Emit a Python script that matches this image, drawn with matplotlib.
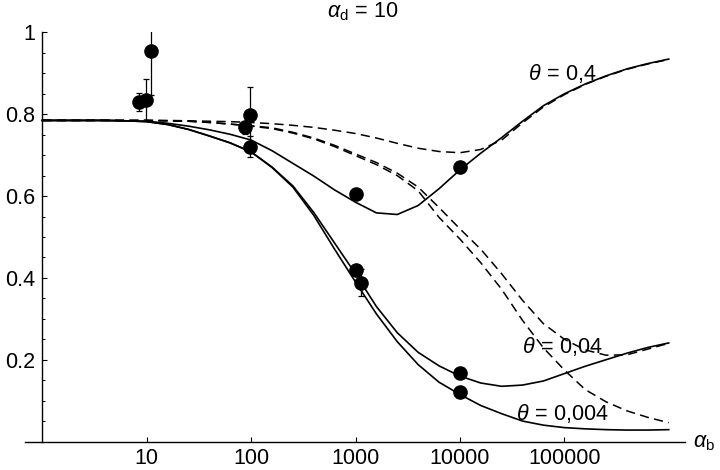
import numpy as np
import matplotlib
matplotlib.use('Agg')
import matplotlib.pyplot as plt
from matplotlib.ticker import FixedLocator, FixedFormatter, NullLocator

plt.rcParams['font.family'] = ['Liberation Sans', 'DejaVu Sans']
plt.rcParams['mathtext.fontset'] = 'custom'
plt.rcParams['mathtext.rm'] = 'Liberation Sans'
plt.rcParams['mathtext.it'] = 'Liberation Sans:italic'
plt.rcParams['mathtext.bf'] = 'Liberation Sans:bold'

alpha_b = 10 ** np.linspace(0, 6, 31)

theta_04 = [0.785, 0.785, 0.785, 0.785, 0.784, 0.783, 0.778, 0.771, 0.762, 0.751,
            0.737, 0.711, 0.680, 0.649, 0.615, 0.585, 0.559, 0.555, 0.577, 0.618,
            0.664, 0.705, 0.743, 0.783, 0.821, 0.850, 0.874, 0.894, 0.911, 0.924,
            0.935]
theta_004 = [0.785, 0.785, 0.785, 0.785, 0.784, 0.782, 0.775, 0.763, 0.747, 0.730,
             0.708, 0.671, 0.625, 0.560, 0.485, 0.410, 0.330, 0.266, 0.218, 0.185,
             0.160, 0.143, 0.135, 0.138, 0.148, 0.166, 0.184, 0.200, 0.216, 0.230,
             0.241]
theta_0004 = [0.785, 0.785, 0.785, 0.785, 0.784, 0.782, 0.775, 0.763, 0.747, 0.730,
              0.708, 0.670, 0.622, 0.553, 0.470, 0.390, 0.312, 0.244, 0.188, 0.145,
              0.115, 0.088, 0.068, 0.050, 0.040, 0.034, 0.031, 0.029, 0.028, 0.028,
              0.029]

# dashed curves (same theta values, other model)
theta_04_dash = [0.785, 0.785, 0.785, 0.785, 0.785, 0.785, 0.785, 0.784, 0.783, 0.782,
                 0.780, 0.777, 0.773, 0.768, 0.761, 0.753, 0.742, 0.729, 0.717, 0.709,
                 0.706, 0.714, 0.737, 0.779, 0.818, 0.848, 0.873, 0.893, 0.910, 0.923,
                 0.934]
theta_004_dash = [0.785, 0.785, 0.785, 0.785, 0.785, 0.785, 0.784, 0.783, 0.780, 0.776,
                  0.772, 0.767, 0.756, 0.742, 0.724, 0.703, 0.682, 0.656, 0.622, 0.572,
                  0.520, 0.470, 0.410, 0.345, 0.288, 0.250, 0.224, 0.211, 0.212, 0.226,
                  0.240]
theta_0004_dash = [0.785, 0.785, 0.785, 0.785, 0.785, 0.785, 0.784, 0.783, 0.780, 0.776,
                   0.771, 0.765, 0.754, 0.740, 0.721, 0.699, 0.677, 0.650, 0.613, 0.548,
                   0.495, 0.437, 0.372, 0.296, 0.229, 0.175, 0.127, 0.097, 0.075, 0.059,
                   0.046]

# measured points
pts_x = [8.5, 9.75, 10.9, 87.5, 97.6, 97.6, 1000, 1000, 1120, 10000, 10000, 10000]
pts_y = [0.831, 0.836, 0.955, 0.768, 0.799, 0.721, 0.606, 0.420, 0.388, 0.672, 0.168, 0.122]
pts_err = [0.022, 0.05, 0.108, 0.015, 0.067, 0.026, 0, 0, 0.033, 0, 0, 0]

xticks = [10, 100, 1000, 10000, 100000]
xticklabels = ['10', '100', '1000', '10000', '100000']
yticks = [0.2, 0.4, 0.6, 0.8, 1.0]
yticklabels = ['0.2', '0.4', '0.6', '0.8', '1']

fig = plt.figure(figsize=(7.2, 4.7), dpi=100)
ax = fig.add_axes([0.0347, 0.0606, 0.9167, 0.8703])

ax.plot(alpha_b, theta_04, color='black', lw=1.2)
ax.plot(alpha_b, theta_004, color='black', lw=1.2)
ax.plot(alpha_b, theta_0004, color='black', lw=1.2)
for ys in [theta_04_dash, theta_004_dash, theta_0004_dash]:
    ax.plot(alpha_b, ys, color='black', lw=1.1, linestyle=(0, (6, 3.5)))

ax.errorbar(pts_x, pts_y, yerr=pts_err, fmt='o', color='black', ms=9.5,
            elinewidth=0.9, capsize=2.5, capthick=0.9, zorder=5)

ax.set_xscale('log')
ax.set_xlim(10 ** -0.166, 10 ** 6.156)
ax.set_ylim(0, 1)

for s in ['top', 'right']:
    ax.spines[s].set_visible(False)
ax.spines['left'].set_position(('data', 1))
ax.spines['left'].set_linewidth(1.0)
ax.spines['bottom'].set_linewidth(1.0)

ax.xaxis.set_major_locator(FixedLocator(xticks))
ax.xaxis.set_major_formatter(FixedFormatter(xticklabels))
ax.xaxis.set_minor_locator(NullLocator())
ax.yaxis.set_major_locator(FixedLocator(yticks))
ax.yaxis.set_major_formatter(FixedFormatter(yticklabels))
ax.yaxis.set_minor_locator(FixedLocator(np.arange(0.05, 1.0, 0.05)))

ax.tick_params(axis='both', which='major', direction='in', length=3.5, width=0.8,
               labelsize=15.5)
ax.tick_params(axis='y', which='minor', direction='in', length=2.0, width=0.7)
ax.tick_params(axis='x', pad=4.5)
ax.tick_params(axis='y', pad=5)

ax.text(95000, 0.90, r'$\theta\,=\,0{,}4$', fontsize=15.5, ha='center', va='center')
ax.text(95000, 0.232, r'$\theta\,=\,0{,}04$', fontsize=15.5, ha='center', va='center')
ax.text(95000, 0.068, r'$\theta\,=\,0{,}004$', fontsize=15.5, ha='center', va='center')

fig.text(363 / 720, 0.962, r'$\alpha_{\rm d}\,=\,10$', fontsize=15.5, ha='center', va='baseline')
fig.text(693 / 720, 0.049, r'$\alpha_{\rm b}$', fontsize=15.5, ha='left', va='baseline')

fig.savefig('out.png', dpi=100)
